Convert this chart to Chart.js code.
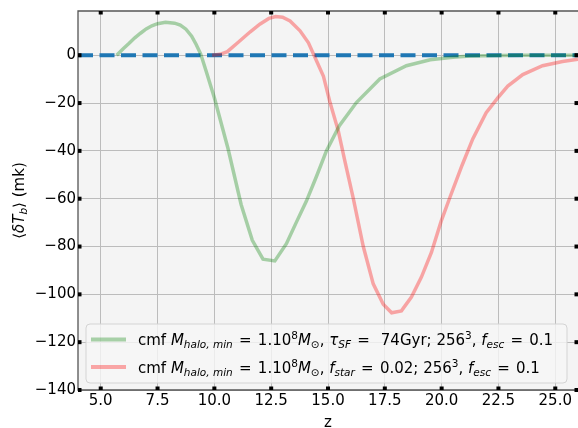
<!DOCTYPE html>
<html>
<head>
<meta charset="utf-8">
<script src="https://cdn.jsdelivr.net/npm/chart.js@4.4.1/dist/chart.umd.min.js"></script>
<style>
  body { margin: 0; background: #fff; }
  #chart { display: block; }
</style>
</head>
<body>
<canvas id="chart" width="578" height="428"></canvas>
<script>
// values
const zGreen = [5.7, 6.0, 6.25, 6.5, 6.75, 7.0, 7.25, 7.5, 7.85, 8.25, 8.5, 8.75, 9.0, 9.2, 9.4, 9.65, 10.0, 10.6, 11.18, 11.67, 12.14, 12.66, 13.17, 13.6, 14.05, 14.5, 14.93, 15.5, 16.25, 17.28, 18.45, 19.5, 20.5, 21.25, 22.5, 23.5, 26];
const dTbGreen = [0, 2.8, 5, 7.3, 9.2, 11, 12.3, 13.2, 13.8, 13.4, 12.6, 10.9, 8.0, 4.5, 0.5, -7, -17.8, -39, -62.5, -77.4, -85.3, -86, -78.8, -70, -61, -50.5, -40, -29.5, -19.8, -9.9, -4.4, -1.9, -0.8, -0.3, -0.1, 0, 0];

const zRed = [9.9, 10.25, 10.57, 11.0, 11.58, 12.0, 12.4, 12.7, 13.0, 13.33, 13.77, 14.14, 14.36, 14.8, 15.09, 15.45, 15.75, 16.11, 16.55, 16.99, 17.43, 17.8, 18.23, 18.67, 19.11, 19.55, 19.98, 20.35, 20.9, 21.37, 21.96, 22.47, 22.91, 23.57, 24.44, 25.32, 26];
const dTbRed = [0, 0.4, 1.5, 5, 9.8, 13, 15.4, 16.2, 15.9, 14.3, 10.2, 5.2, 0.5, -8.8, -19.8, -31.5, -44.6, -59.8, -79.9, -95.6, -104.1, -107.7, -106.9, -101.1, -92.8, -82.5, -69.4, -59.8, -46, -35, -24, -17.8, -12.9, -8.1, -4.4, -2.6, -1.7];

const zZero = [4, 26];
const dTbZero = [0, 0];

const xTicks = [5, 7.5, 10, 12.5, 15, 17.5, 20, 22.5, 25];
const yTicks = [-140, -120, -100, -80, -60, -40, -20, 0];

// legend rows: [text, italic, shift(0 base, 1 sub, -1 sup)]
const EQ = ' \u200a=\u200a ';
const legendGreen = [['cmf ', 0, 0], ['M', 1, 0], ['halo, min', 1, 1], [EQ + '1.10', 0, 0], ['8', 0, -1], ['M', 1, 0], ['\u2299', 0, 1], [', ', 0, 0], ['\u03c4', 1, 0], ['SF', 1, 1], [EQ + ' 74Gyr; 256', 0, 0], ['3', 0, -1], [', ', 0, 0], ['f', 1, 0], ['esc', 1, 1], [EQ + '0.1', 0, 0]];
const legendRed = [['cmf ', 0, 0], ['M', 1, 0], ['halo, min', 1, 1], [EQ + '1.10', 0, 0], ['8', 0, -1], ['M', 1, 0], ['\u2299', 0, 1], [', ', 0, 0], ['f', 1, 0], ['star', 1, 1], [EQ + '0.02; 256', 0, 0], ['3', 0, -1], [', ', 0, 0], ['f', 1, 0], ['esc', 1, 1], [EQ + '0.1', 0, 0]];
const yTitle = [['\u27e8', 0, 0], ['\u03b4T', 1, 0], ['b', 1, 1], ['\u27e9', 0, 0], [' (mk)', 0, 0]];

const GREEN = 'rgba(0, 128, 0, 0.32)';
const RED = 'rgba(255, 0, 0, 0.33)';
const BLUE = '#1f77b4';
const FONT = "'DejaVu Sans'";

function pts(xs, ys) {
  return xs.map((x, i) => ({ x: x, y: ys[i] }));
}

function richWidth(ctx, parts, size) {
  let w = 0;
  parts.forEach(p => {
    const s = p[2] ? size * 0.7 : size;
    ctx.font = (p[1] ? 'italic ' : '') + s + 'px ' + FONT;
    w += ctx.measureText(p[0]).width;
  });
  return w;
}

function drawRich(ctx, x, y, parts, size) {
  ctx.textBaseline = 'alphabetic';
  ctx.textAlign = 'left';
  parts.forEach(p => {
    const s = p[2] ? size * 0.7 : size;
    ctx.font = (p[1] ? 'italic ' : '') + s + 'px ' + FONT;
    let dy = 0;
    if (p[2] === 1) dy = size * 0.22;
    if (p[2] === -1) dy = -size * 0.4;
    ctx.fillText(p[0], x, y + dy);
    x += ctx.measureText(p[0]).width;
  });
}

const framePlugin = {
  id: 'frame',
  beforeDraw(chart) {
    const ctx = chart.ctx;
    const a = chart.chartArea;
    ctx.save();
    ctx.fillStyle = '#ffffff';
    ctx.fillRect(0, 0, chart.width, chart.height);
    ctx.fillStyle = '#f4f4f4';
    ctx.fillRect(a.left, a.top, a.right - a.left, a.bottom - a.top);
    ctx.restore();
  },
  afterDraw(chart) {
    const ctx = chart.ctx;
    const a = chart.chartArea;
    const xs = chart.scales.x;
    const ys = chart.scales.y;
    ctx.save();

    // spines
    ctx.strokeStyle = '#555';
    ctx.lineWidth = 1.3;
    ctx.beginPath();
    ctx.moveTo(a.right + 2, a.top);
    ctx.lineTo(a.left, a.top);
    ctx.lineTo(a.left, a.bottom);
    ctx.lineTo(a.right + 2, a.bottom);
    ctx.stroke();

    // square ticks on all four sides, inside
    ctx.fillStyle = '#000';
    xTicks.forEach(v => {
      const px = xs.getPixelForValue(v);
      ctx.fillRect(px - 2, a.bottom - 3.5, 4, 3.5);
      ctx.fillRect(px - 2, a.top, 4, 3.5);
    });
    yTicks.forEach(v => {
      const py = ys.getPixelForValue(v);
      ctx.fillRect(a.left, py - 2, 3.5, 4);
      ctx.fillRect(a.right - 3.5, py - 2, 3.5, 4);
    });

    // legend
    const lx = 86, ly = 324, lw = 481, lh = 59;
    ctx.beginPath();
    ctx.roundRect(lx, ly, lw, lh, 4);
    ctx.fillStyle = 'rgba(246, 246, 246, 0.8)';
    ctx.fill();
    ctx.strokeStyle = '#d4d4d4';
    ctx.lineWidth = 1;
    ctx.stroke();

    const rows = [[legendGreen, GREEN, 339.5], [legendRed, RED, 367]];
    rows.forEach(r => {
      ctx.strokeStyle = r[1];
      ctx.lineWidth = 4;
      ctx.beginPath();
      ctx.moveTo(91, r[2]);
      ctx.lineTo(126, r[2]);
      ctx.stroke();
      ctx.fillStyle = '#000';
      drawRich(ctx, 138, r[2] + 5.5, r[0], 15);
    });

    // axis titles
    ctx.fillStyle = '#000';
    ctx.save();
    ctx.translate(24, (a.top + a.bottom) / 2);
    ctx.rotate(-Math.PI / 2);
    const tw = richWidth(ctx, yTitle, 15);
    drawRich(ctx, -tw / 2, 0, yTitle, 15);
    ctx.restore();

    ctx.font = '15px ' + FONT;
    ctx.textAlign = 'center';
    ctx.textBaseline = 'alphabetic';
    ctx.fillText('z', (a.left + a.right) / 2, 427);

    ctx.restore();
  }
};

const ctx = document.getElementById('chart').getContext('2d');
const chart = new Chart(ctx, {
  type: 'line',
  data: {
    datasets: [
      {
        label: 'zero',
        data: pts(zZero, dTbZero),
        borderColor: BLUE,
        borderWidth: 4,
        borderDash: [15, 6.5],
        borderCapStyle: 'butt',
        pointRadius: 0,
        fill: false,
        order: 3
      },
      {
        label: 'fstar',
        data: pts(zRed, dTbRed),
        borderColor: RED,
        borderWidth: 3.5,
        pointRadius: 0,
        fill: false,
        order: 2
      },
      {
        label: 'tauSF',
        data: pts(zGreen, dTbGreen),
        borderColor: GREEN,
        borderWidth: 3.5,
        pointRadius: 0,
        fill: false,
        order: 1
      }
    ]
  },
  options: {
    responsive: false,
    animation: false,
    devicePixelRatio: 1,
    layout: { padding: { top: 7, right: 0, left: 0, bottom: 0 } },
    plugins: {
      legend: { display: false },
      tooltip: { enabled: false }
    },
    scales: {
      x: {
        type: 'linear',
        min: 4,
        max: 26,
        afterBuildTicks: s => { s.ticks = xTicks.map(v => ({ value: v })); },
        afterFit: s => { s.height = 38; },
        ticks: {
          color: '#000',
          font: { family: 'DejaVu Sans', size: 15 },
          padding: 2,
          maxRotation: 0,
          autoSkip: false,
          callback: v => v.toFixed(1)
        },
        grid: { color: '#bcbcbc', lineWidth: 1, drawTicks: false },
        border: { display: false }
      },
      y: {
        type: 'linear',
        min: -140,
        max: 18.5,
        afterBuildTicks: s => { s.ticks = yTicks.map(v => ({ value: v })); },
        afterFit: s => { s.width = 78; },
        ticks: {
          color: '#000',
          font: { family: 'DejaVu Sans', size: 15 },
          padding: 2,
          autoSkip: false,
          callback: v => (v < 0 ? '\u2212' + Math.abs(v) : String(v))
        },
        grid: { color: '#bcbcbc', lineWidth: 1, drawTicks: false },
        border: { display: false }
      }
    }
  },
  plugins: [framePlugin]
});
</script>
</body>
</html>
